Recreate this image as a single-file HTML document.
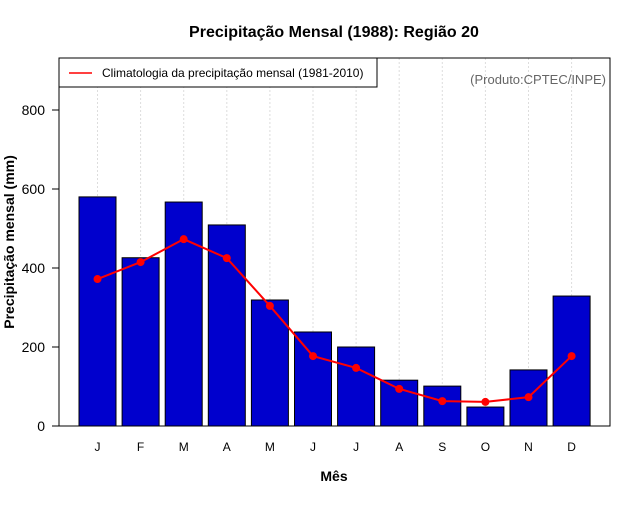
<!DOCTYPE html>
<html><head><meta charset="utf-8"><style>body{margin:0;background:#fff}svg{font-family:"Liberation Sans",sans-serif}</style></head>
<body>
<svg width="640" height="500" id="c">
<text x="334" y="37" text-anchor="middle" font-size="16" font-weight="bold">Precipitação Mensal (1988): Região 20</text>
<text x="334" y="481" text-anchor="middle" font-size="14" font-weight="bold">Mês</text>
<text transform="translate(14,242) rotate(-90)" text-anchor="middle" font-size="14" font-weight="bold">Precipitação mensal (mm)</text>
<g id="grid"></g><g id="bars"></g><g id="line"></g><g id="axes"></g>
<rect x="59" y="58" width="551" height="368" fill="none" stroke="#000"/>
<g>
<rect x="59" y="58" width="318" height="29" fill="#fff" stroke="#000"/>
<line x1="69" y1="73" x2="92" y2="73" stroke="red" stroke-width="1.5"/>
<text x="102" y="77" font-size="12">Climatologia da precipitação mensal (1981-2010)</text>
</g>
<text x="606" y="84" text-anchor="end" font-size="13" fill="#666">(Produto:CPTEC/INPE)</text>
</svg>
<script>
const months=["J","F","M","A","M","J","J","A","S","O","N","D"];
const precip=[580,426,567,509,319,238,200,116,101,48,142,329];
const clim=[372,415,473,425,304,177,147,94,63,61,73,177];
const yTicks=[0,200,400,600,800];
const NS="http://www.w3.org/2000/svg";
const xs=i=>97.5+i*43.1, ys=v=>426-v*0.395;
function mk(p,t,a){const e=document.createElementNS(NS,t);for(const k in a)e.setAttribute(k,a[k]);document.getElementById(p).appendChild(e);return e;}
months.forEach((m,i)=>{
 const g=mk("grid","line",{x1:xs(i),x2:xs(i),y1:58,y2:426,stroke:"#ddd","stroke-dasharray":"2,2"});
 
 
 const b=mk("bars","rect",{x:xs(i)-18.5,y:ys(precip[i]),width:37,height:precip[i]*0.395,fill:"#0000cd",stroke:"#000","stroke-width":1});
 
 
 const t=mk("axes","text",{x:xs(i),y:451,"text-anchor":"middle","font-size":12});t.textContent=m;
 
 
});
const pl=mk("line","polyline",{points:clim.map((v,i)=>xs(i)+","+ys(v)).join(" "),fill:"none",stroke:"red","stroke-width":2});


clim.forEach((v,i)=>{const c=mk("line","circle",{cx:xs(i),cy:ys(v),r:4,fill:"red"});
 
 });
yTicks.forEach(v=>{mk("axes","line",{x1:52,x2:59,y1:ys(v),y2:ys(v),stroke:"#000"});
 const t=mk("axes","text",{x:45,y:ys(v)+5,"text-anchor":"end","font-size":14});t.textContent=v;
 
 });
</script>
</body></html>
